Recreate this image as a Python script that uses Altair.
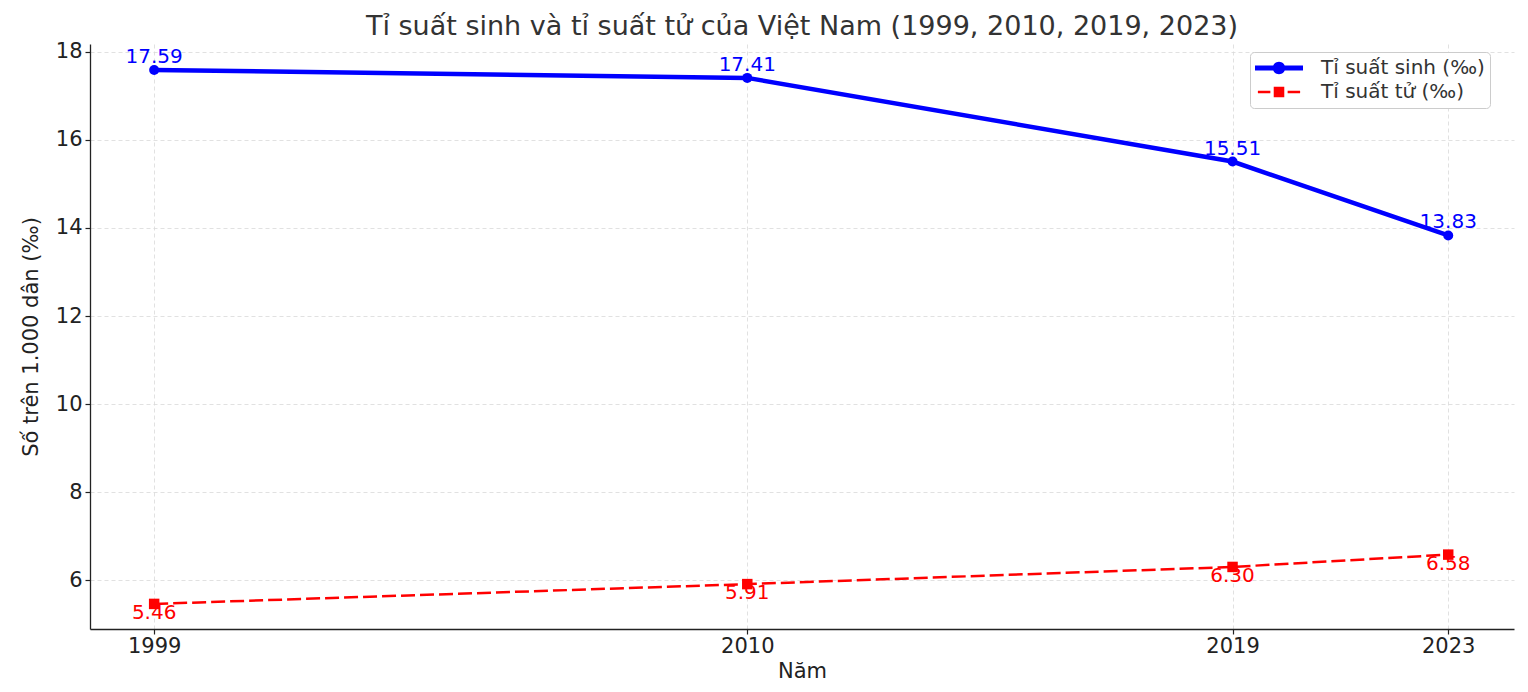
import altair as alt
import pandas as pd

# ---- data ----
years = [1999, 2010, 2019, 2023]
birth_rate = [17.59, 17.41, 15.51, 13.83]
death_rate = [5.46, 5.91, 6.30, 6.58]
series_names = ["Tỉ suất sinh (‰)", "Tỉ suất tử (‰)"]
series_colors = ["#0000ff", "#ff0000"]
y_ticks = [6, 8, 10, 12, 14, 16, 18]

rows = []
for yr, v in zip(years, birth_rate):
    rows.append({"year": yr, "value": v, "series": series_names[0], "label": f"{v:.2f}"})
for yr, v in zip(years, death_rate):
    rows.append({"year": yr, "value": v, "series": series_names[1], "label": f"{v:.2f}"})
df = pd.DataFrame(rows)

FONT = "DejaVu Sans"

# legend glyphs (unit coordinates): line + marker
path_birth = ("M-1,-0.1H-0.2V0.1H-1Z M0.2,-0.1H1V0.1H0.2Z "
              "M-0.26,0A0.26,0.26,0,1,1,0.26,0A0.26,0.26,0,1,1,-0.26,0Z")
path_death = ("M-0.88,-0.055H-0.36V0.055H-0.88Z M0.36,-0.055H0.88V0.055H0.36Z "
              "M-0.22,-0.22H0.22V0.22H-0.22Z")

x_enc = alt.X(
    "year:Q",
    scale=alt.Scale(domain=[1997.81, 2024.22], nice=False, zero=False),
    axis=alt.Axis(values=years, format="d", title="Năm", labelPadding=1,
                  titlePadding=4, labelFlush=False, labelAngle=0),
)
y_enc = alt.Y(
    "value:Q",
    scale=alt.Scale(domain=[4.89, 18.18], nice=False, zero=False),
    axis=alt.Axis(values=y_ticks, title="Số trên 1.000 dân (‰)", labelPadding=3,
                  titlePadding=14),
)

base = alt.Chart(df).encode(x=x_enc, y=y_enc)

birth = base.transform_filter(alt.datum.series == series_names[0])
death = base.transform_filter(alt.datum.series == series_names[1])

line_b = birth.mark_line(color=series_colors[0], strokeWidth=4.5)
pt_b = birth.mark_point(filled=True, shape="circle", size=100, color=series_colors[0], opacity=1)
txt_b = birth.mark_text(dy=-7, baseline="alphabetic", fontSize=20, font=FONT,
                        color=series_colors[0]).encode(text="label:N")

line_d = death.mark_line(color=series_colors[1], strokeWidth=2.5, strokeDash=[14, 5])
pt_d = death.mark_point(filled=True, shape="square", size=110, color=series_colors[1], opacity=1)
txt_d = death.mark_text(dy=15, baseline="alphabetic", fontSize=20, font=FONT,
                        color=series_colors[1]).encode(text="label:N")

leg = alt.Legend(
    title=None, orient="none", legendX=1160, legendY=8,
    symbolSize=2304, clipHeight=22, rowPadding=2, padding=5,
    labelFontSize=20, labelFont=FONT, labelColor="#333", labelOffset=18,
    labelLimit=400,
    strokeColor="#cccccc", fillColor="#ffffff", cornerRadius=4,
    symbolStrokeWidth=0, symbolOpacity=1,
)

legend_layer = base.mark_point(filled=True, size=2304, opacity=0).encode(
    color=alt.Color("series:N", scale=alt.Scale(domain=series_names, range=series_colors),
                    legend=leg),
    shape=alt.Shape("series:N", scale=alt.Scale(domain=series_names, range=[path_birth, path_death]),
                    legend=leg),
)

chart = (
    alt.layer(line_b, line_d, pt_b, pt_d, txt_b, txt_d, legend_layer)
    .properties(
        width=1424,
        height=585,
        title=alt.Title(
            "Tỉ suất sinh và tỉ suất tử của Việt Nam (1999, 2010, 2019, 2023)",
            fontSize=27, font=FONT, color="#333333", fontWeight="normal",
            anchor="middle", offset=0,
        ),
        autosize=alt.AutoSizeParams(type="none"),
        padding={"left": 82, "top": 36, "right": 6, "bottom": 55},
    )
    .configure_view(stroke=None)
    .configure_axis(
        labelFont=FONT, labelFontSize=21, labelColor="#222222",
        titleFont=FONT, titleFontSize=21, titleColor="#222222", titleFontWeight="normal",
        domainColor="#222222", domainWidth=1.3,
        tickColor="#222222", tickSize=5, tickWidth=1.2,
        gridColor="#d9d9d9", gridDash=[4, 3], gridWidth=0.8,
    )
)

chart.save("out.html", embed_options={"renderer": "svg", "actions": False})
